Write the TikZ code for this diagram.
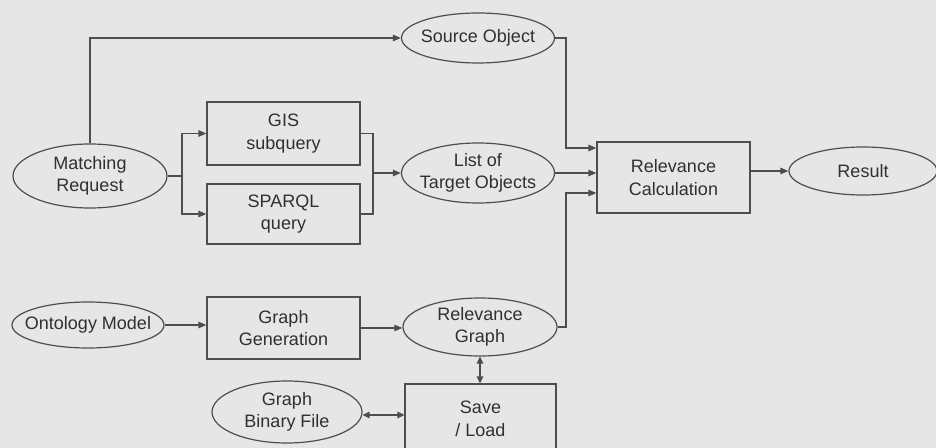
\documentclass[tikz,border=0pt]{standalone}
\usepackage{fontspec}
\setmainfont{Liberation Sans}
\usetikzlibrary{shapes.geometric,arrows.meta,calc}
\definecolor{paper}{RGB}{230,230,230}
\definecolor{ink}{RGB}{48,48,48}
\definecolor{wire}{RGB}{78,78,78}
\begin{document}
\begin{tikzpicture}[x=1bp,y=-1bp,
  every node/.style={font=\fontsize{18bp}{22.5bp}\selectfont, text=ink, align=center},
  oval/.style={ellipse, draw=wire, line width=1.2bp, inner xsep=-10bp, inner ysep=-6bp},
  procbox/.style={rectangle, draw=wire, line width=1.2bp, inner sep=0pt},
  wirestyle/.style={draw=wire, line width=1.3bp},
  arr/.style={wirestyle, -{Triangle[length=8bp,width=6.5bp]}},
  darr/.style={wirestyle, {Triangle[length=7bp,width=6.5bp]}-{Triangle[length=7bp,width=6.5bp]}}]
\fill[paper] (0,0) rectangle (936,448);
\useasboundingbox (0,0) rectangle (936,448);
\clip (0,0) rectangle (936,448);

% nodes
\node[oval, minimum width=153bp, minimum height=50bp] (src) at (478,38) {Source Object};
\node[oval, minimum width=154bp, minimum height=64bp] (match) at (90,176) {Matching\\Request};
\node[procbox, minimum width=153bp, minimum height=63bp] (gis) at (283.5,133.5) {GIS\\subquery};
\node[procbox, minimum width=153bp, minimum height=60bp] (sparql) at (283.5,214) {SPARQL\\query};
\node[oval, minimum width=153bp, minimum height=60bp] (list) at (478,173) {List of\\Target Objects};
\node[procbox, minimum width=153bp, minimum height=71bp] (calc) at (673.5,177.5) {Relevance\\Calculation};
\node[oval, minimum width=148bp, minimum height=48bp] (result) at (863,171) {Result};
\node[oval, minimum width=152bp, minimum height=46bp] (onto) at (88,325) {Ontology Model};
\node[procbox, minimum width=153bp, minimum height=62bp] (ggen) at (283.5,328) {Graph\\Generation};
\node[oval, minimum width=154bp, minimum height=58bp] (rgraph) at (480,327) {Relevance\\Graph};
\node[procbox, minimum width=151bp, minimum height=70bp] (save) at (480.5,419) {Save\\/ Load};
\node[oval, minimum width=150bp, minimum height=62bp] (gbf) at (287,412) {Graph\\Binary File};

% junction coordinates
\coordinate (fork) at (182,176);
\coordinate (merge) at (373,173);
\coordinate (j1) at (566,148);
\coordinate (j2) at (566,193);
\coordinate (lvl) at (0,415);

% connectors
\draw[arr] (match.north) |- (src.west);
\draw[wirestyle] (match.east) -- (fork);
\draw[arr] (fork) |- (gis.west);
\draw[arr] (fork) |- (sparql.west);
\draw[wirestyle] (gis.east) -| (merge) |- (sparql.east);
\draw[arr] (merge) -- (list.west |- merge);
\draw[arr] (src.east) -| (j1) -- (calc.west |- j1);
\draw[arr] (list.east) -- (calc.west |- list.east);
\draw[arr] (rgraph.east) -| (j2) -- (calc.west |- j2);
\draw[arr] (calc.east |- result.west) -- (result.west);
\draw[arr] (onto.east) -- (ggen.west |- onto.east);
\draw[arr] (ggen.east) -- (rgraph.west |- ggen.east);
\draw[darr] (rgraph.south) -- (save.north -| rgraph.south);
\draw[darr] (gbf.east |- lvl) -- (save.west |- lvl);
\end{tikzpicture}
\end{document}
